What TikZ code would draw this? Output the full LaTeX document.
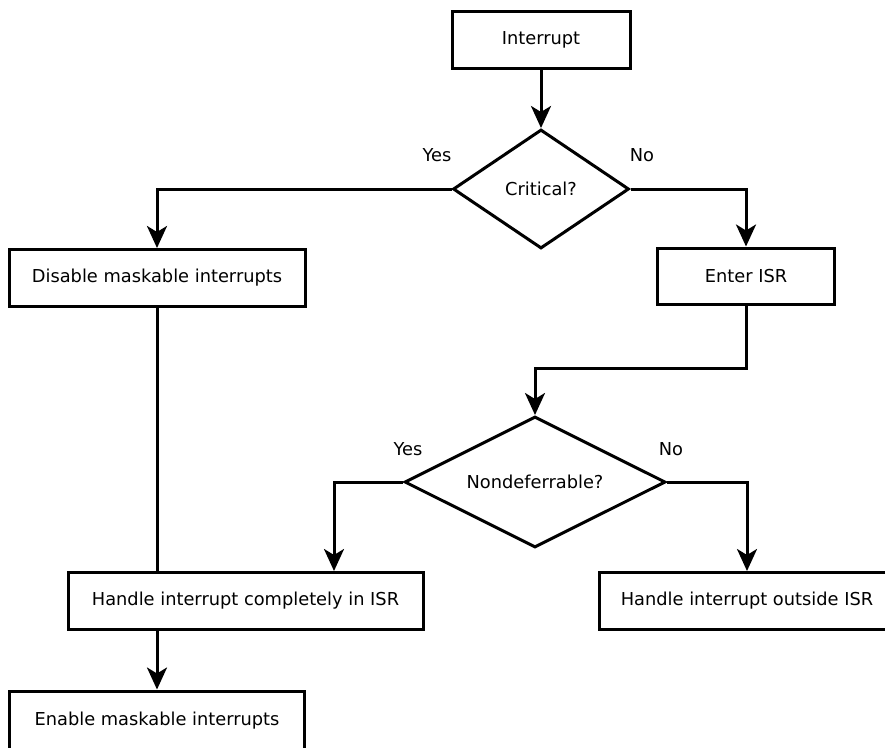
\documentclass[tikz,border=0pt]{standalone}
\usepackage{fontspec}
\setmainfont{DejaVu Sans}
\usetikzlibrary{shapes,shapes.geometric,positioning,calc,arrows.meta}

\begin{document}
\begin{tikzpicture}[x=1pt, y=-1pt]

        \def\lw{3pt}

        % Box, decision and arrow styles used in the chart
        \tikzset{
            every node/.style={font=\fontsize{17.8}{21}\selectfont},
            stepbox/.style={draw, line width=\lw, rectangle, inner sep=0pt,
                minimum height=57pt},
            decision/.style={draw, line width=\lw, diamond, inner sep=0pt,
                aspect=2},
            arr/.style={line width=\lw,
                -{Stealth[length=22pt, width=20pt, inset=6pt]}},
            link/.style={line width=\lw}
        }

        \useasboundingbox (0,0) rectangle (885,747);

        % Scope used for the nodes of the chart
        \begin{scope}
            \node[stepbox, minimum width=178pt] (Intr) at (541,40)
            {Interrupt};
            \node[decision, minimum width=176pt, minimum height=119pt]
            (Crit) at (541,189) {Critical?};
            \node[stepbox, minimum width=296pt] (Dis) at (157,278)
            {Disable maskable interrupts};
            \node[stepbox, minimum width=177pt, minimum height=56pt]
            (Enter) at (746,276) {Enter ISR};
            \node[decision, minimum width=261pt, minimum height=131pt]
            (Nondef) at (535,482) {Nondeferrable?};
            \node[stepbox, minimum width=355pt] (Full) at (245.5,601)
            {Handle interrupt completely in ISR};
            % runs past the right edge of the page
            \node[stepbox, minimum width=296pt] (Out) at (747,601)
            {Handle interrupt outside ISR};
            % runs past the lower edge of the page
            \node[stepbox, minimum width=295pt, text height=34pt,
            text depth=27pt, anchor=base] (Ena) at (157,725)
            {Enable maskable interrupts};
        \end{scope}

        % Yes / No labels
        \node (Y1) at (437,155) {Yes};
        \node (N1) at (642,155) {No};
        \node (Y2) at (408,449) {Yes};
        \node (N2) at (671,449) {No};

        \begin{scope}
            \draw[arr] (Intr) -- (Crit);
            \draw[arr] (Crit.west) -| (Dis.north);
            \draw[arr] (Crit.east) -| (Enter.north);
            \draw[arr] (Enter.south) -- ++(0,63) -| (Nondef.north);
            \draw[arr] (Nondef.west) -| ([xshift=88.5pt]Full.north);
            \draw[arr] (Nondef.east) -| (Out.north);
            \draw[link] (Dis.south) -- (Dis.south |- Full.north);
            \draw[arr] (Ena.north |- Full.south) -- (Ena.north);
        \end{scope}

        \end{tikzpicture}
\end{document}
